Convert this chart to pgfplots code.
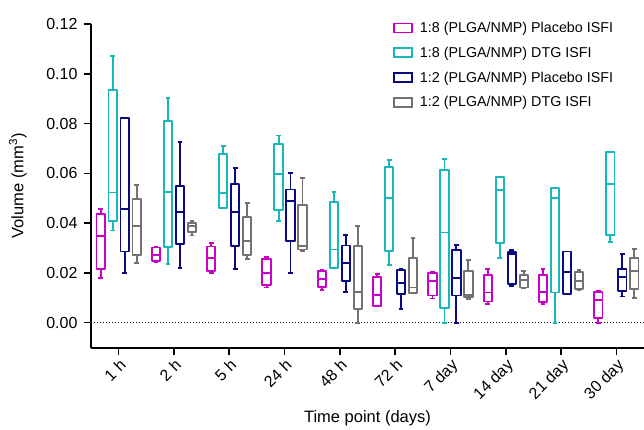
\documentclass[border=0pt]{standalone}
\usepackage{fontspec}
\setmainfont{Liberation Sans}
\usepackage{pgfplots}
\pgfplotsset{compat=1.18}
\usepgfplotslibrary{statistics}

\definecolor{cMag}{HTML}{C800C8}
\definecolor{cTeal}{HTML}{18B8B8}
\definecolor{cNavy}{HTML}{0A0A82}
\definecolor{cGray}{HTML}{727272}

% one prepared box: colour, position, lower whisker, lower quartile, median, upper quartile, upper whisker
\newcommand{\bx}[7]{%
  \addplot[#1, line width=1.9pt, line join=round, forget plot,
    boxplot prepared={draw direction=y, draw position=#2, lower whisker=#3, lower quartile=#4,
      median=#5, upper quartile=#6, upper whisker=#7,
      box extend=0.15, whisker extend=0.085}] coordinates {};}

\begin{document}
\begin{tikzpicture}
\path[use as bounding box] (-91pt,-81pt) rectangle (553pt,348pt);
\begin{axis}[
  scale only axis,
  width=553pt, height=324pt,
  xmin=-0.5, xmax=9.5,
  ymin=-0.0102, ymax=0.12,
  axis lines*=left,
  axis line style={line width=2pt, -},
  tick align=outside,
  major tick length=7pt,
  tick style={black, line width=1.6pt},
  xtick={0,...,9},
  xticklabels={1 h, 2 h, 5 h, 24 h, 48 h, 72 h, 7 day, 14 day, 21 day, 30 day},
  xticklabel style={rotate=45, anchor=north east, inner sep=2pt},
  ytick={0,0.02,0.04,0.06,0.08,0.10,0.12},
  yticklabel style={xshift=-3pt, /pgf/number format/.cd, fixed, fixed zerofill, precision=2, assume math mode=true},
  ticklabel style={font=\fontsize{16}{18}\selectfont},
  label style={font=\fontsize{16.5}{19}\selectfont},
  xlabel={Time point (days)},
  ylabel={Volume (mm\textsuperscript{3})},
  ylabel style={at={(axis description cs:-0.132,0.5)}, anchor=center},
  xlabel style={yshift=-2pt},
  legend style={draw=none, fill=none, at={(0.54,1.019)}, anchor=north west,
    font=\fontsize{14.3}{16}\selectfont, row sep=9pt},
  legend cell align=left,
  legend image code/.code={\draw[#1, line width=1.9pt] (0pt,-4.5pt) rectangle (18pt,4.5pt); \path (24pt,0pt);},
  clip=false
]
\addlegendimage{cMag}\addlegendentry{1:8 (PLGA/NMP) Placebo ISFI}
\addlegendimage{cTeal}\addlegendentry{1:8 (PLGA/NMP) DTG ISFI}
\addlegendimage{cNavy}\addlegendentry{1:2 (PLGA/NMP) Placebo ISFI}
\addlegendimage{cGray}\addlegendentry{1:2 (PLGA/NMP) DTG ISFI}

\addplot[black, dotted, line width=1pt, forget plot] coordinates {(-0.5,0) (9.5,0)};

% 1 h
\bx{cMag}{-0.325}{0.0180}{0.0214}{0.0347}{0.0436}{0.0456}
\bx{cTeal}{-0.108}{0.0370}{0.0408}{0.0523}{0.0934}{0.1072}
\bx{cNavy}{0.108}{0.0198}{0.0286}{0.0455}{0.0822}{0.0822}
\bx{cGray}{0.325}{0.0241}{0.0273}{0.0388}{0.0495}{0.0553}
% 2 h
\bx{cMag}{0.675}{0.0245}{0.0249}{0.0273}{0.0302}{0.0305}
\bx{cTeal}{0.892}{0.0236}{0.0303}{0.0524}{0.0812}{0.0901}
\bx{cNavy}{1.108}{0.0220}{0.0317}{0.0443}{0.0549}{0.0727}
\bx{cGray}{1.325}{0.0350}{0.0363}{0.0387}{0.0400}{0.0410}
% 5 h
\bx{cMag}{1.675}{0.0201}{0.0209}{0.0258}{0.0306}{0.0319}
\bx{cTeal}{1.892}{0.0460}{0.0460}{0.0522}{0.0676}{0.0708}
\bx{cNavy}{2.108}{0.0214}{0.0309}{0.0443}{0.0557}{0.0623}
\bx{cGray}{2.325}{0.0255}{0.0273}{0.0327}{0.0423}{0.0479}
% 24 h
\bx{cMag}{2.675}{0.0141}{0.0150}{0.0198}{0.0254}{0.0265}
\bx{cTeal}{2.892}{0.0410}{0.0452}{0.0596}{0.0717}{0.0752}
\bx{cNavy}{3.108}{0.0198}{0.0329}{0.0489}{0.0535}{0.0601}
\bx{cGray}{3.325}{0.0287}{0.0294}{0.0307}{0.0473}{0.0580}
% 48 h
\bx{cMag}{3.675}{0.0130}{0.0142}{0.0177}{0.0206}{0.0210}
\bx{cTeal}{3.892}{0.0221}{0.0221}{0.0294}{0.0483}{0.0524}
\bx{cNavy}{4.108}{0.0122}{0.0168}{0.0238}{0.0310}{0.0352}
\bx{cGray}{4.325}{0.0000}{0.0054}{0.0122}{0.0309}{0.0390}
% 72 h
\bx{cMag}{4.675}{0.0066}{0.0066}{0.0112}{0.0185}{0.0197}
\bx{cTeal}{4.892}{0.0233}{0.0287}{0.0499}{0.0625}{0.0653}
\bx{cNavy}{5.108}{0.0056}{0.0116}{0.0160}{0.0213}{0.0216}
\bx{cGray}{5.325}{0.0118}{0.0118}{0.0141}{0.0258}{0.0341}
% 7 day
\bx{cMag}{5.675}{0.0097}{0.0109}{0.0168}{0.0200}{0.0204}
\bx{cTeal}{5.892}{0.0000}{0.0058}{0.0362}{0.0613}{0.0659}
\bx{cNavy}{6.108}{0.0000}{0.0109}{0.0180}{0.0291}{0.0313}
\bx{cGray}{6.325}{0.0096}{0.0102}{0.0112}{0.0206}{0.0253}
% 14 day
\bx{cMag}{6.675}{0.0076}{0.0085}{0.0121}{0.0190}{0.0214}
\bx{cTeal}{6.892}{0.0259}{0.0321}{0.0533}{0.0584}{0.0584}
\bx{cNavy}{7.108}{0.0148}{0.0155}{0.0275}{0.0285}{0.0292}
\bx{cGray}{7.325}{0.0140}{0.0141}{0.0170}{0.0190}{0.0206}
% 21 day
\bx{cMag}{7.675}{0.0074}{0.0084}{0.0122}{0.0190}{0.0214}
\bx{cTeal}{7.892}{0.0000}{0.0121}{0.0500}{0.0540}{0.0540}
\bx{cNavy}{8.108}{0.0116}{0.0116}{0.0202}{0.0286}{0.0286}
\bx{cGray}{8.325}{0.0130}{0.0134}{0.0166}{0.0204}{0.0213}
% 30 day
\bx{cMag}{8.675}{0.0000}{0.0017}{0.0092}{0.0124}{0.0126}
\bx{cTeal}{8.892}{0.0323}{0.0351}{0.0556}{0.0687}{0.0687}
\bx{cNavy}{9.108}{0.0105}{0.0126}{0.0184}{0.0217}{0.0274}
\bx{cGray}{9.325}{0.0098}{0.0136}{0.0209}{0.0258}{0.0295}
\end{axis}
\end{tikzpicture}
\end{document}
